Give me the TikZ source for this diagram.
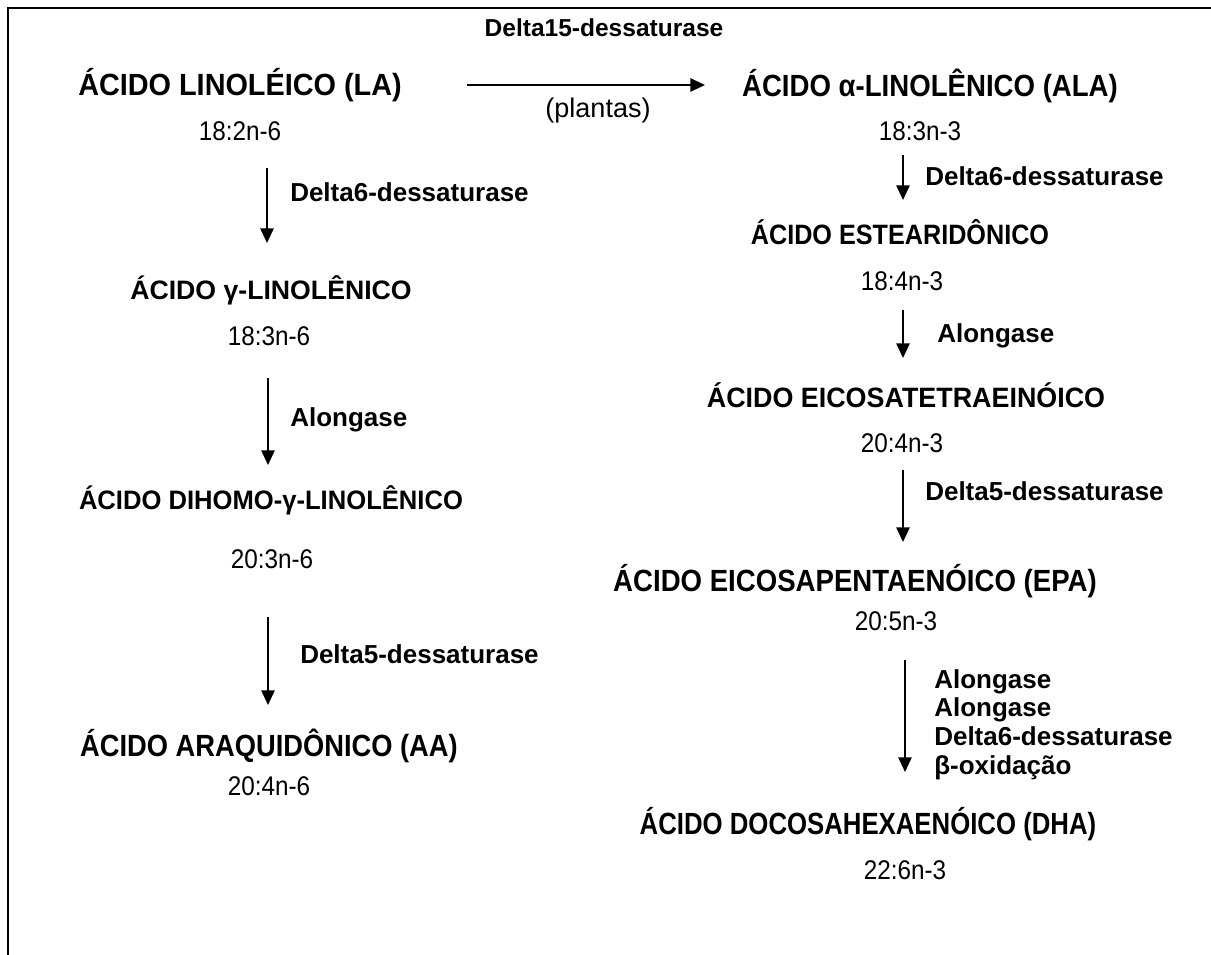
\documentclass[tikz,border=0pt]{standalone}
\usepackage{fontspec}
\setmainfont{Liberation Sans}
\usetikzlibrary{arrows.meta, positioning}

\tikzset{
    titulo/.style={font=\bfseries\fontsize{23}{28}\selectfont, anchor=base, inner sep=0pt},
    subtit/.style={font=\bfseries\fontsize{20}{24}\selectfont, anchor=base, inner sep=0pt},
    cadeia/.style={font=\fontsize{20.25}{24}\selectfont, anchor=base, inner sep=0pt},
    enzima/.style={font=\bfseries\fontsize{19.5}{21.5}\selectfont, anchor=base west, inner sep=0pt, align=left},
    seta/.style={line width=1.3pt, -{Triangle[length=11pt, width=10pt]}},
}
\newcommand{\estr}[2]{\scalebox{#1}[1]{#2}}

\begin{document}
\begin{tikzpicture}[x=0.75pt, y=-0.75pt]
    \useasboundingbox (0,0) rectangle (1211,955);
    \draw[line width=1.5pt] (8,955) -- (8,8) -- (1211,8);

    % serie n-6
    \node[titulo] (la)   at (240,96)  {\estr{0.94}{ÁCIDO LINOLÉICO (LA)}};
    \node[cadeia] (la-c) at (240,141) {\estr{0.9}{18:2n-6}};
    \node[subtit] (gla)   at (271,300) {ÁCIDO γ-LINOLÊNICO};
    \node[cadeia] (gla-c) at (269,346) {\estr{0.9}{18:3n-6}};
    \node[subtit] (dgla)   at (271,510) {\estr{0.96}{ÁCIDO DIHOMO-γ-LINOLÊNICO}};
    \node[cadeia] (dgla-c) at (272,569) {\estr{0.9}{20:3n-6}};
    \node[titulo] (aa)   at (269,756) {\estr{0.89}{ÁCIDO ARAQUIDÔNICO (AA)}};
    \node[cadeia] (aa-c) at (269,795) {\estr{0.9}{20:4n-6}};

    % serie n-3
    \node[titulo] (ala)   at (930,97)  {\estr{0.9}{ÁCIDO α-LINOLÊNICO (ALA)}};
    \node[cadeia] (ala-c) at (920,141) {\estr{0.9}{18:3n-3}};
    \node[subtit, font=\bfseries\fontsize{21}{25}\selectfont] (sda) at (900,245) {\estr{0.9}{ÁCIDO ESTEARIDÔNICO}};
    \node[cadeia] (sda-c) at (902,291) {\estr{0.9}{18:4n-3}};
    \node[subtit, font=\bfseries\fontsize{21}{25}\selectfont] (eta) at (906,408) {\estr{0.96}{ÁCIDO EICOSATETRAEINÓICO}};
    \node[cadeia] (eta-c) at (902,453) {\estr{0.9}{20:4n-3}};
    \node[titulo] (epa)   at (855,591) {\estr{0.9}{ÁCIDO EICOSAPENTAENÓICO (EPA)}};
    \node[cadeia] (epa-c) at (896,630) {\estr{0.9}{20:5n-3}};
    \node[titulo] (dha)   at (868,834) {\estr{0.84}{ÁCIDO DOCOSAHEXAENÓICO (DHA)}};
    \node[cadeia] (dha-c) at (905,879) {\estr{0.9}{22:6n-3}};

    % enzimas
    \node[enzima, font=\bfseries\fontsize{18.4}{21}\selectfont, anchor=base] (d15) at (604,37) {Delta15-dessaturase};
    \node[cadeia] (plantas) at (598,118) {(plantas)};
    \node[enzima] (e1) at (290,202) {Delta6-dessaturase};
    \node[enzima] (e2) at (290,427) {Alongase};
    \node[enzima] (e3) at (300,663) {Delta5-dessaturase};
    \node[enzima] (e4) at (925,186) {Delta6-dessaturase};
    \node[enzima] (e5) at (937,343) {Alongase};
    \node[enzima] (e6) at (925,501) {Delta5-dessaturase};
    \node[enzima] (e7) at (934,774) {Alongase\\Alongase\\Delta6-dessaturase\\β-oxidação};

    % setas
    \coordinate (h-a) at (467,85);
    \coordinate (h-b) at (705,85);
    \draw[seta] (h-a) -- (h-b);
    \foreach \n/\x/\ya/\yb in {s1/267/168/243, s2/268/378/465, s3/268/617/705,
                               s4/903/155/200, s5/903/310/358, s6/903/470/542, s7/905/660/772} {
        \coordinate (\n-a) at (\x,\ya);
        \coordinate (\n-b) at (\x,\yb);
        \draw[seta] (\n-a) -- (\n-b);
    }
\end{tikzpicture}
\end{document}
